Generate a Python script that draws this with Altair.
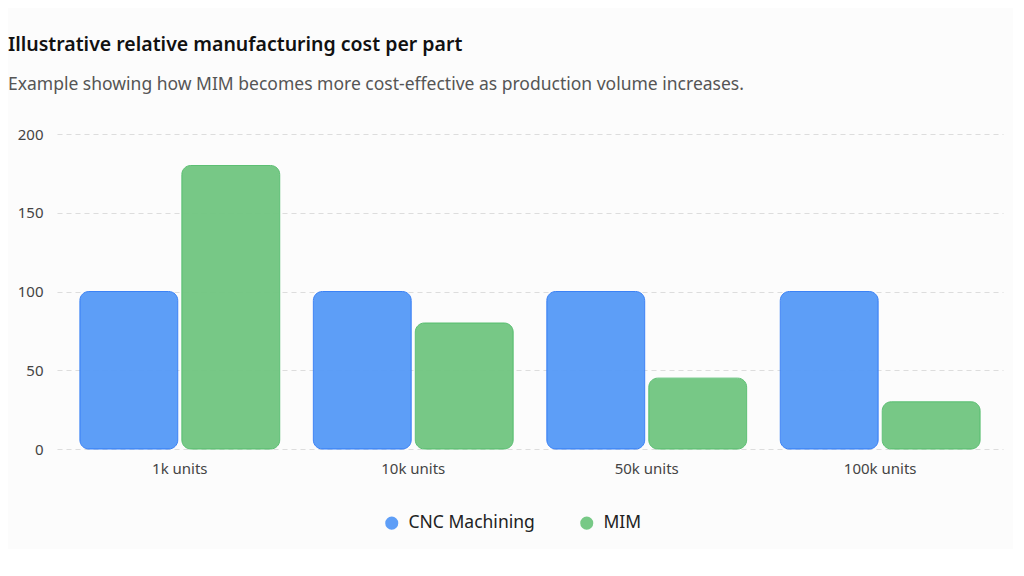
import altair as alt
import pandas as pd

volumes = ["1k units", "10k units", "50k units", "100k units"]
cnc_cost = [100, 100, 100, 100]
mim_cost = [180, 80, 45, 30]
series = ["CNC Machining", "MIM"]
y_ticks = [0, 50, 100, 150, 200]

rows = []
for v, c, m in zip(volumes, cnc_cost, mim_cost):
    rows.append({"volume": v, "method": series[0], "cost": c})
    rows.append({"volume": v, "method": series[1], "cost": m})
df = pd.DataFrame(rows)

FONT = "Noto Sans"

chart = (
    alt.Chart(df)
    .mark_bar(cornerRadius=9, strokeWidth=1, opacity=0.95)
    .encode(
        x=alt.X(
            "volume:N",
            sort=volumes,
            title=None,
            scale=alt.Scale(paddingInner=0.144, paddingOuter=0.098),
            axis=alt.Axis(labelAngle=0, ticks=False, domain=False, labelPadding=12,
                          labelFontSize=15, labelColor="#444444", labelFont=FONT),
        ),
        xOffset=alt.XOffset("method:N", sort=series, scale=alt.Scale(paddingInner=0.04)),
        y=alt.Y(
            "cost:Q",
            title=None,
            scale=alt.Scale(domain=[0, 200], nice=False),
            axis=alt.Axis(values=y_ticks, ticks=False, domain=False, labelPadding=14,
                          labelFontSize=15, labelColor="#444444", labelFont=FONT,
                          grid=True, gridDash=[5, 4], gridColor="#dddddd", gridWidth=1),
        ),
        color=alt.Color(
            "method:N",
            sort=series,
            scale=alt.Scale(domain=series, range=["#5599f7", "#70c680"]),
            legend=alt.Legend(orient="none", legendX=326, legendY=380,
                              direction="horizontal", title=None,
                              symbolType="circle", symbolSize=170, symbolStrokeWidth=0,
                              labelFontSize=17.5, labelColor="#222222", labelFont=FONT,
                              labelOffset=8, columnPadding=43, symbolOffset=0),
        ),
        stroke=alt.Stroke(
            "method:N",
            sort=series,
            scale=alt.Scale(domain=series, range=["#3b82f6", "#5cbf73"]),
            legend=None,
        ),
    )
    .properties(
        width=946,
        height=315,
        background="#fcfcfc",
        padding={"left": 49, "top": 126, "right": 10, "bottom": 100},
        autosize=alt.AutoSizeParams(type="none"),
        title=alt.TitleParams(
            text="Illustrative relative manufacturing cost per part",
            subtitle="Example showing how MIM becomes more cost-effective as production volume increases.",
            anchor="start",
            frame="group",
            dx=-49,
            offset=33,
            font=FONT,
            fontSize=19.5,
            fontWeight=600,
            color="#111111",
            subtitleFont=FONT,
            subtitleFontSize=17.5,
            subtitleColor="#555555",
            subtitlePadding=20,
        ),
    )
    .configure_view(stroke=None)
)

chart.save("out.html", embed_options={"renderer": "svg", "actions": False})
